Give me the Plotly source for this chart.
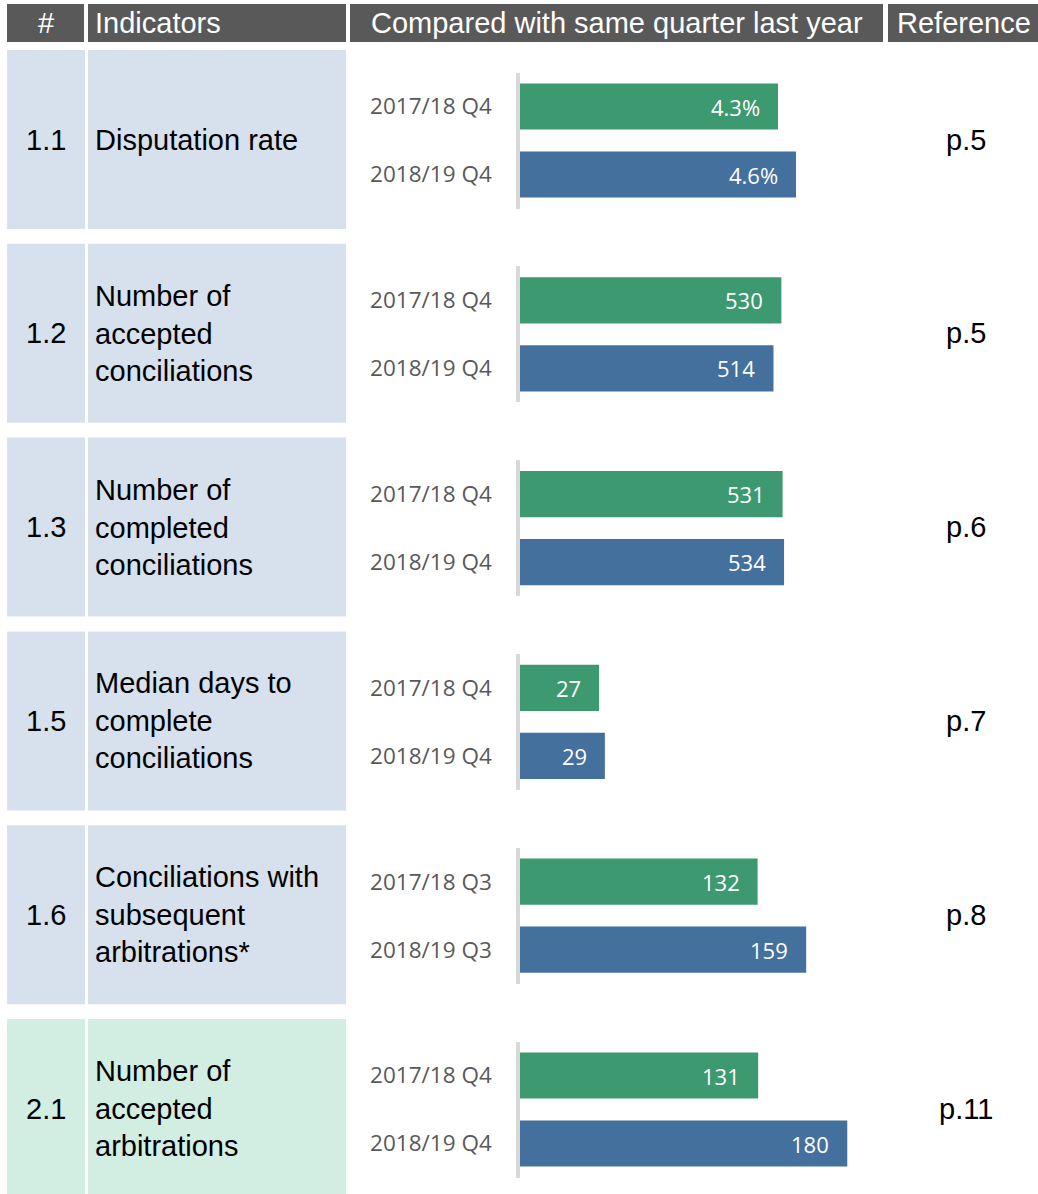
import plotly.graph_objects as go

# ---------------- data ----------------
numbers = ["1.1", "1.2", "1.3", "1.5", "1.6", "2.1"]
indicators = [
    "Disputation rate",
    "Number of<br>accepted<br>conciliations",
    "Number of<br>completed<br>conciliations",
    "Median days to<br>complete<br>conciliations",
    "Conciliations with<br>subsequent<br>arbitrations*",
    "Number of<br>accepted<br>arbitrations",
]
period_prev = ["2017/18 Q4", "2017/18 Q4", "2017/18 Q4", "2017/18 Q4", "2017/18 Q3", "2017/18 Q4"]
period_curr = ["2018/19 Q4", "2018/19 Q4", "2018/19 Q4", "2018/19 Q4", "2018/19 Q3", "2018/19 Q4"]
values_prev = [4.3, 530, 531, 27, 132, 131]
values_curr = [4.6, 514, 534, 29, 159, 180]
units = ["%", "", "", "", "", ""]
references = ["p.5", "p.5", "p.6", "p.7", "p.8", "p.11"]
headers = ["#", "Indicators", "Compared with same quarter last year", "Reference"]
axis_max = [6.0, 730, 728, 123, 200, 198]

# ---------------- style ----------------
W, H = 1038, 1194
GREEN = "#3D9970"
BLUE = "#44709D"
HEAD = "#595959"
CELL_FILL = ["#D7E1ED"] * 5 + ["#D2EDE2"]
BODY_FONT = "Liberation Sans, Arial, sans-serif"
LABEL_FONT = "Open Sans, sans-serif"
BODY_SIZE = 29

def px(x):
    return x / W

def py(y):
    return 1 - y / H

fig = go.Figure()
shapes = []
annotations = []

# header
head_cols = [(7, 84), (88, 346), (350, 883), (888, 1038)]
for (x0, x1) in head_cols:
    shapes.append(dict(type="rect", xref="paper", yref="paper", x0=px(x0), x1=px(x1),
                       y0=py(42), y1=py(4), fillcolor=HEAD, line=dict(width=0), layer="below"))
head_pos = [(46, "center"), (93, "left"), (617, "center"), (964, "center")]
for txt, (x, anc) in zip(headers, head_pos):
    annotations.append(dict(text=txt, xref="paper", yref="paper", x=px(x), y=py(23),
                            xanchor=anc, yanchor="middle", showarrow=False,
                            font=dict(family=BODY_FONT, size=BODY_SIZE, color="white")))

pitch = 193.8
bar_x0, bar_x1 = 520, 880
for r in range(6):
    top = 50 + r * pitch
    bot = top + 179
    cy = (top + bot) / 2
    fill = CELL_FILL[r]
    for (x0, x1) in [(7, 85), (88, 346)]:
        shapes.append(dict(type="rect", xref="paper", yref="paper", x0=px(x0), x1=px(x1),
                           y0=py(bot), y1=py(top), fillcolor=fill, line=dict(width=0), layer="below"))
    annotations.append(dict(text=numbers[r], xref="paper", yref="paper", x=px(46), y=py(cy),
                            xanchor="center", yanchor="middle", showarrow=False,
                            font=dict(family=BODY_FONT, size=BODY_SIZE, color="black")))
    annotations.append(dict(text=indicators[r], xref="paper", yref="paper", x=px(93), y=py(cy),
                            xanchor="left", yanchor="middle", align="left", showarrow=False,
                            font=dict(family=BODY_FONT, size=BODY_SIZE, color="black")))
    annotations.append(dict(text=references[r], xref="paper", yref="paper", x=px(966), y=py(cy),
                            xanchor="center", yanchor="middle", showarrow=False,
                            font=dict(family=BODY_FONT, size=BODY_SIZE, color="black")))

    # bar subplot
    sfx = "" if r == 0 else str(r + 1)
    cats = [period_prev[r], period_curr[r]]
    vals = [values_prev[r], values_curr[r]]
    fig.add_trace(go.Bar(
        x=vals, y=cats, orientation="h",
        marker=dict(color=[GREEN, BLUE], line=dict(width=0)),
        xaxis="x" + sfx, yaxis="y" + sfx, hoverinfo="skip", showlegend=False,
    ))
    for v, c in zip(vals, cats):
        annotations.append(dict(text=f"{v:g}{units[r]}", xref="x" + sfx, yref="y" + sfx,
                                x=v, y=c, xanchor="right", yanchor="middle", xshift=-16,
                                showarrow=False,
                                font=dict(family=LABEL_FONT, size=22, color="white")))
    y_top = cy - 67
    y_bot = cy + 69
    fig.update_layout(**{
        "xaxis" + sfx: dict(domain=[px(bar_x0), px(bar_x1)], range=[0, axis_max[r]],
                            anchor="y" + sfx, showgrid=False, zeroline=False,
                            showticklabels=False, showline=False, fixedrange=True),
        "yaxis" + sfx: dict(domain=[py(y_bot), py(y_top)], anchor="x" + sfx,
                            type="category", autorange="reversed",
                            showgrid=False, zeroline=False, showline=True,
                            linecolor="#D9D9D9", linewidth=3.5, ticks="",
                            ticklabelstandoff=20, fixedrange=True,
                            tickfont=dict(family=LABEL_FONT, size=22.5, color="#595959")),
    })

fig.update_layout(
    width=W, height=H, margin=dict(l=0, r=0, t=0, b=0),
    paper_bgcolor="white", plot_bgcolor="rgba(0,0,0,0)",
    bargap=0.32, shapes=shapes, annotations=annotations, showlegend=False,
)

fig.write_html("out.html", config={"displayModeBar": False},
               post_script="document.body.style.margin='0';")
